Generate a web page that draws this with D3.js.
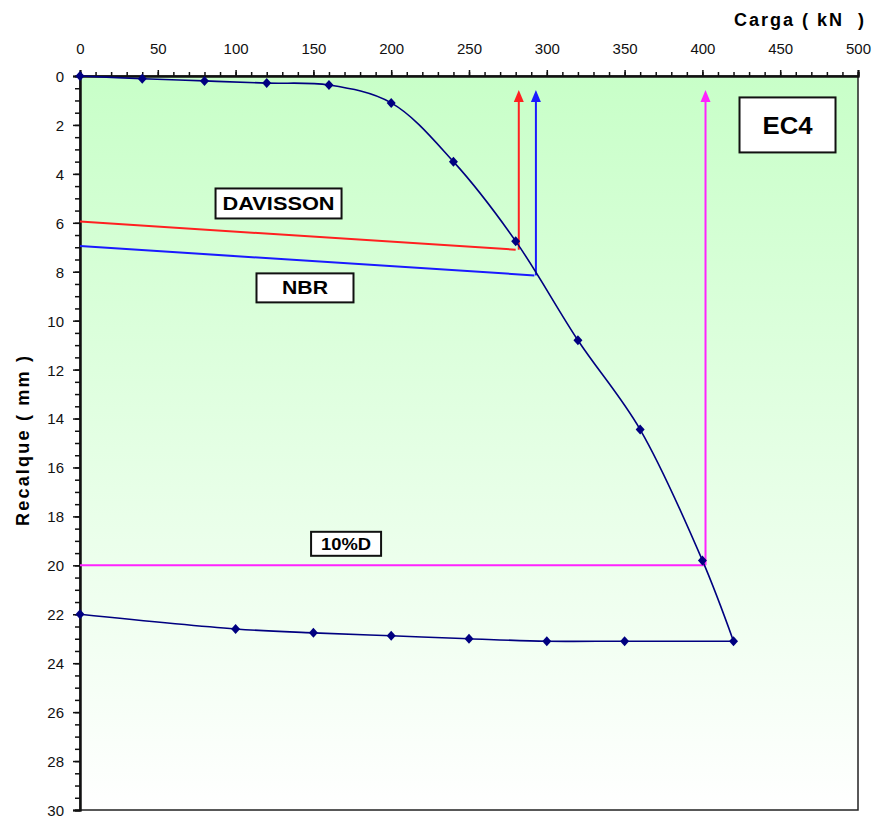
<!DOCTYPE html>
<html>
<head>
<meta charset="utf-8">
<script src="https://cdn.jsdelivr.net/npm/d3@7"></script>
<style>
  body { margin: 0; background: #fff; }
  text { font-family: "Liberation Sans", Arial, sans-serif; }
</style>
</head>
<body>
<svg width="881" height="821"></svg>
<script>
// dados da prova de carga (carga em kN, recalque em mm)
const loadKN   = [0, 40, 80, 120, 160, 200, 240, 280, 320, 360, 400, 420];
const loadMM   = [0, 0.11, 0.2, 0.29, 0.37, 1.1, 3.5, 6.75, 10.8, 14.45, 19.8, 23.1];
const unloadKN = [420, 350, 300, 250, 200, 150, 100, 0];
const unloadMM = [23.1, 23.1, 23.1, 23.0, 22.88, 22.76, 22.6, 22.0];

// retas dos criterios de ruptura
const davissonKN = [0, 280];
const davissonMM = [5.95, 7.1];
const davissonArrowKN = 282;
const nbrKN = [0, 292];
const nbrMM = [6.95, 8.15];
const nbrArrowKN = 293;
const tenDKN = [0, 401];
const tenDMM = [20, 20];
const tenDArrowKN = 402;
const arrowTipMM = 0.57;

const xTicks = [0, 50, 100, 150, 200, 250, 300, 350, 400, 450, 500];
const yTicks = [0, 2, 4, 6, 8, 10, 12, 14, 16, 18, 20, 22, 24, 26, 28, 30];

const svg = d3.select("svg");
const margin = { top: 76, right: 23, bottom: 11, left: 80 };
const width = +svg.attr("width") - margin.left - margin.right;
const height = +svg.attr("height") - margin.top - margin.bottom;
const chart = svg.append("g").attr("transform", `translate(${margin.left},${margin.top})`);

const x = d3.scaleLinear().domain([0, 500]).range([0, width]);
const y = d3.scaleLinear().domain([0, 30]).range([0, height]);

// fundo com degrade verde -> branco
const grad = svg.append("defs").append("linearGradient")
  .attr("id", "bg").attr("x1", 0).attr("y1", 0).attr("x2", 0).attr("y2", 1);
grad.append("stop").attr("offset", "0%").attr("stop-color", "#c8ffc8");
grad.append("stop").attr("offset", "100%").attr("stop-color", "#ffffff");

chart.append("rect")
  .attr("width", width).attr("height", height)
  .attr("fill", "url(#bg)")
  .attr("stroke", "#222").attr("stroke-width", 1.5);

// eixos
const minorX = chart.append("g")
  .call(d3.axisTop(x).tickValues(d3.range(0, 501, 10)).tickSize(4).tickFormat(""));
const majorX = chart.append("g")
  .call(d3.axisTop(x).tickValues(xTicks).tickSize(6).tickPadding(16).tickFormat(d3.format("d")));
const minorY = chart.append("g")
  .call(d3.axisLeft(y).tickValues(d3.range(0, 30.01, 0.5)).tickSize(5).tickFormat(""));
const majorY = chart.append("g")
  .call(d3.axisLeft(y).tickValues(yTicks).tickSize(7).tickPadding(9).tickFormat(d3.format("d")));

[minorX, majorX, minorY, majorY].forEach(g => {
  g.selectAll("path").attr("stroke", "#111").attr("stroke-width", 2);
  g.selectAll("line").attr("stroke", "#111").attr("stroke-width", 1.5);
  g.selectAll("text").attr("font-size", "15px").attr("fill", "#111")
    .style("font-family", "'Liberation Sans', Arial, sans-serif");
});
majorY.selectAll("text").attr("dy", "0.36em");

// titulos dos eixos
svg.append("text")
  .attr("x", 864).attr("y", 26)
  .attr("text-anchor", "end")
  .attr("font-size", "18px").attr("font-weight", "bold")
  .attr("textLength", 130).attr("lengthAdjust", "spacing")
  .style("white-space", "pre")
  .text("Carga ( kN  )");

svg.append("text")
  .attr("transform", "rotate(-90)")
  .attr("x", -441).attr("y", 29)
  .attr("text-anchor", "middle")
  .attr("font-size", "18px").attr("font-weight", "bold")
  .attr("textLength", 170).attr("lengthAdjust", "spacing")
  .text("Recalque ( mm )");

// retas dos criterios + setas
const straight = d3.line().x(d => x(d[0])).y(d => y(d[1]));

function criterio(kn, mm, arrowKN, cor) {
  chart.append("path")
    .attr("d", straight(d3.zip(kn, mm)))
    .attr("fill", "none").attr("stroke", cor).attr("stroke-width", 2);
  const baseMM = mm[mm.length - 1];
  const ax = x(arrowKN);
  const tip = y(arrowTipMM);
  chart.append("line")
    .attr("x1", ax).attr("x2", ax)
    .attr("y1", y(baseMM)).attr("y2", tip + 10)
    .attr("stroke", cor).attr("stroke-width", 2);
  chart.append("path")
    .attr("d", `M${ax},${tip} L${ax - 5},${tip + 12} L${ax + 5},${tip + 12} Z`)
    .attr("fill", cor);
}
criterio(davissonKN, davissonMM, davissonArrowKN, "#ff2020");
criterio(nbrKN, nbrMM, nbrArrowKN, "#1a1aff");
criterio(tenDKN, tenDMM, tenDArrowKN, "#ff22ff");

// curva carga x recalque (carregamento e descarregamento)
const loadPts = d3.zip(loadKN, loadMM);
const unloadPts = d3.zip(unloadKN, unloadMM);
const curve = d3.line()
  .x(d => x(d[0])).y(d => y(d[1]))
  .curve(d3.curveCatmullRom.alpha(0.5));

[loadPts, unloadPts].forEach(p => {
  chart.append("path")
    .attr("d", curve(p))
    .attr("fill", "none")
    .attr("stroke", "#000080")
    .attr("stroke-width", 1.6);
});

chart.selectAll(".ponto")
  .data(loadPts.concat(unloadPts.slice(1)))
  .enter()
  .append("path")
  .attr("class", "ponto")
  .attr("transform", d => `translate(${x(d[0])},${y(d[1])})`)
  .attr("d", "M0,-5L4.5,0L0,5L-4.5,0Z")
  .attr("fill", "#000080");

// caixas de rotulo
function caixa(cx, cy, w, h, txt, fs, tl) {
  const g = chart.append("g").attr("transform", `translate(${x(cx)},${y(cy)})`);
  g.append("rect")
    .attr("x", -w / 2).attr("y", -h / 2)
    .attr("width", w).attr("height", h)
    .attr("fill", "#fff").attr("stroke", "#111").attr("stroke-width", 2);
  g.append("text")
    .attr("text-anchor", "middle").attr("dy", "0.36em")
    .attr("font-size", fs + "px").attr("font-weight", "bold")
    .attr("textLength", tl).attr("lengthAdjust", "spacingAndGlyphs")
    .text(txt);
}
caixa(127.6, 5.21, 126, 30, "DAVISSON", 18, 112);
caixa(144.6, 8.66, 97, 29, "NBR", 18, 46);
caixa(171, 19.12, 70, 24, "10%D", 16, 50);
caixa(454.7, 2.0, 96, 55, "EC4", 24, 50);
</script>
</body>
</html>
